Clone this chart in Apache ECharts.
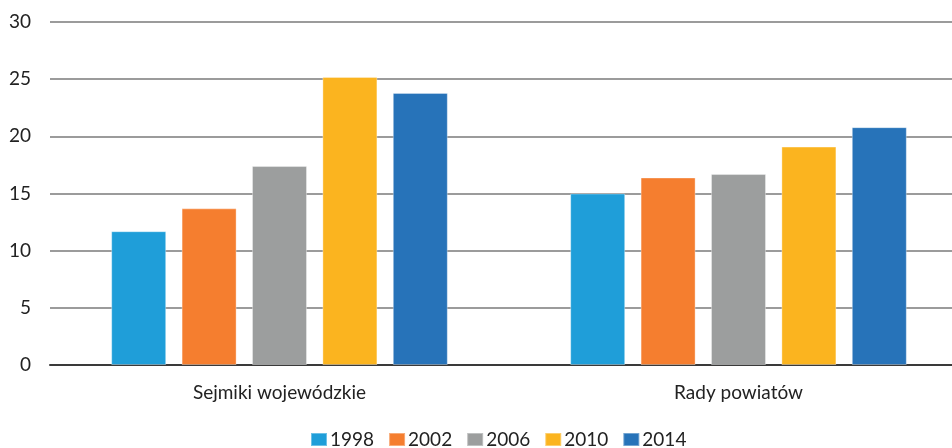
<!DOCTYPE html>
<html>
<head>
<meta charset="utf-8">
<script src="https://cdn.jsdelivr.net/npm/echarts@6/dist/echarts.min.js"></script>
<style>
  html, body { margin: 0; padding: 0; background: #fff; }
  #chart { width: 952px; height: 448px; }
</style>
</head>
<body>
<div id="chart"></div>
<script>
const categories = ['Sejmiki wojewódzkie', 'Rady powiatów']
const years = ['1998', '2002', '2006', '2010', '2014']
const colors = ['#1f9ed9', '#f57e2f', '#9c9e9e', '#fbb41f', '#2773b9']
const values1998 = [11.7, 15.0]
const values2002 = [13.7, 16.4]
const values2006 = [17.4, 16.7]
const values2010 = [25.2, 19.1]
const values2014 = [23.8, 20.8]
const yTicks = [0, 30, 5]

const allValues = [values1998, values2002, values2006, values2010, values2014]
const font = 'Lato, "Open Sans", sans-serif'

const chart = echarts.init(document.getElementById('chart'))

chart.setOption({
  backgroundColor: '#fff',
  animation: false,
  grid: { left: 50, right: -16, top: 22, bottom: 83, outerBoundsMode: 'none', containLabel: false },
  legend: {
    top: 430,
    left: 310,
    padding: 0,
    itemWidth: 16,
    itemHeight: 13,
    itemGap: 14,
    icon: 'rect',
    textStyle: { fontFamily: font, fontSize: 19, color: '#222', padding: [0, 0, 0, -2] },
    data: years
  },
  xAxis: {
    type: 'category',
    data: categories,
    axisTick: { show: false },
    axisLine: { lineStyle: { color: '#3a3a3a', width: 2 } },
    axisLabel: { fontFamily: font, fontSize: 19, color: '#222', margin: 18 }
  },
  yAxis: {
    type: 'value',
    min: yTicks[0],
    max: yTicks[1],
    interval: yTicks[2],
    axisLine: { show: false },
    axisTick: { show: false },
    splitLine: { lineStyle: { color: '#7a7a7a', width: 1.5 } },
    axisLabel: { fontFamily: font, fontSize: 19, color: '#222', margin: 19 }
  },
  series: years.map((y, i) => ({
    name: y,
    type: 'bar',
    data: allValues[i],
    barWidth: 55,
    barGap: '28%',
    itemStyle: { color: colors[i], borderColor: 'rgba(255,255,255,0.35)', borderWidth: 1 }
  }))
})
</script>
</body>
</html>
